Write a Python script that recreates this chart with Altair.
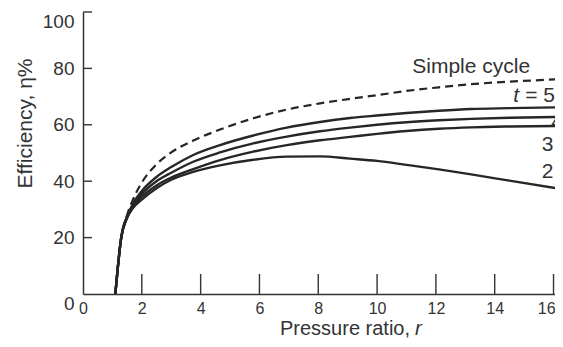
import altair as alt
import pandas as pd

# ---- data ----
r_vals = [1.1, 1.3, 1.5, 1.7, 2.0, 2.5, 3.0, 3.75, 4.66, 5.79, 6.93, 8.06, 9.08, 10.0, 11.0, 12.1, 13.2, 14.5, 16.1]
simple = [0, 20, 28, 33.5, 39.5, 46.0, 50.2, 54.4, 58.3, 62.3, 65.4, 67.6, 69.2, 70.5, 72.0, 73.3, 74.4, 75.3, 76.1]
t5 = [0, 20, 27.5, 32, 36.5, 41.5, 45, 49.3, 52.8, 56.2, 59.0, 61.0, 62.4, 63.3, 64.2, 65.0, 65.6, 65.9, 66.2]
t4 = [0, 20, 27.5, 31.5, 35.5, 40, 43, 46.9, 50.2, 53.4, 55.8, 57.7, 59.0, 60.0, 60.9, 61.6, 62.1, 62.5, 62.8]
t3 = [0, 20, 27, 31, 34.5, 38.5, 41.3, 44.3, 47.5, 50.5, 52.8, 54.5, 55.7, 56.8, 57.8, 58.6, 59.1, 59.4, 59.6]
t2 = [0, 20, 27, 30.5, 33.5, 37.5, 40.5, 43.3, 45.6, 47.6, 48.7, 48.8, 48.0, 47.2, 45.8, 44.2, 42.4, 40.2, 37.5]

x_ticks = [2, 4, 6, 8, 10, 12, 14, 16]
y_ticks = [20, 40, 60, 80, 100]
x_labels = [0, 2, 4, 6, 8, 10, 12, 14, 16]
y_labels = [0, 20, 40, 60, 80, 100]

solid = pd.DataFrame(
    [{"r": r, "eta": v, "series": name}
     for name, vals in [("t5", t5), ("t4", t4), ("t3", t3), ("t2", t2)]
     for r, v in zip(r_vals, vals)]
)
dashed = pd.DataFrame({"r": r_vals, "eta": simple})

center_labels = pd.DataFrame([{"r": 13.2, "eta": 78.4, "text": "Simple cycle"}])
right_labels = pd.DataFrame([
    {"r": 16.0, "eta": 50.8, "text": "3"},
    {"r": 16.0, "eta": 41.0, "text": "2"},
])
left_labels = pd.DataFrame([{"r": 15.92, "eta": 59.0, "text": "4"}])
t_label = pd.DataFrame([{"r": 16.05, "eta": 68.2}])

INK = "#262626"
FONT = "Liberation Sans"

xs = alt.Scale(domain=[0, 16.05], nice=False, zero=False)
ys = alt.Scale(domain=[0, 100], nice=False)

x_axis = alt.Axis(values=x_labels, ticks=False, grid=False, title=None,
                  labelFontSize=16, labelPadding=6, labelColor="#333",
                  labelFont=FONT, domainColor="#333", domainWidth=1.5,
                  labelFlush=False,
                  labelAlign={"condition": {"test": "datum.value == 16", "value": "right"},
                              "value": "center"},
                  labelOffset={"condition": {"test": "datum.value == 16", "value": 1.5},
                               "value": 0})
y_axis = alt.Axis(values=y_labels, ticks=False, grid=False,
                  title="Efficiency, η%", titleFontSize=21, titleFont=FONT,
                  titleFontWeight="normal", titleColor="#333",
                  titleX=-58, titleY=111, titleAlign="center", titleBaseline="middle",
                  labelFontSize=19, labelPadding=9, labelColor="#333",
                  labelFont=FONT, domainColor="#333", domainWidth=1.5,
                  labelFlush=False,
                  labelBaseline={"condition": {"test": "datum.value == 100 || datum.value == 0",
                                               "value": "top"}, "value": "middle"})

solid_lines = alt.Chart(solid).mark_line(
    color=INK, strokeWidth=2.4, interpolate="monotone"
).encode(
    x=alt.X("r:Q", scale=xs, axis=x_axis),
    y=alt.Y("eta:Q", scale=ys, axis=y_axis),
    detail="series:N",
)

dashed_line = alt.Chart(dashed).mark_line(
    color=INK, strokeWidth=2.2, strokeDash=[8, 5], interpolate="monotone"
).encode(x=alt.X("r:Q", scale=xs), y=alt.Y("eta:Q", scale=ys))

xtick = alt.Chart(pd.DataFrame({"v": x_ticks})).mark_rule(
    color="#333", strokeWidth=1.4
).encode(x=alt.X("v:Q", scale=xs), y=alt.value(262), y2=alt.value(282))

ytick = alt.Chart(pd.DataFrame({"v": y_ticks})).mark_rule(
    color="#333", strokeWidth=1.4
).encode(y=alt.Y("v:Q", scale=ys), x=alt.value(0), x2=alt.value(9))

ann_center = alt.Chart(center_labels).mark_text(
    align="center", baseline="alphabetic", fontSize=21, font=FONT, color="#333"
).encode(x=alt.X("r:Q", scale=xs), y=alt.Y("eta:Q", scale=ys), text="text:N")

ann_right = alt.Chart(right_labels).mark_text(
    align="right", baseline="alphabetic", fontSize=21, font=FONT, color="#333"
).encode(x=alt.X("r:Q", scale=xs), y=alt.Y("eta:Q", scale=ys), text="text:N")

ann_left = alt.Chart(left_labels).mark_text(
    align="left", baseline="alphabetic", fontSize=21, font=FONT, color="#333"
).encode(x=alt.X("r:Q", scale=xs), y=alt.Y("eta:Q", scale=ys), text="text:N")

t_eq = alt.Chart(t_label).mark_text(
    align="right", baseline="alphabetic", fontSize=21, font=FONT, color="#333"
).encode(x=alt.X("r:Q", scale=xs), y=alt.Y("eta:Q", scale=ys), text=alt.value("= 5"))

t_it = alt.Chart(t_label).mark_text(
    align="right", baseline="alphabetic", fontSize=21, font=FONT, color="#333",
    fontStyle="italic", dx=-36
).encode(x=alt.X("r:Q", scale=xs), y=alt.Y("eta:Q", scale=ys), text=alt.value("t"))

xtitle = alt.Chart(pd.DataFrame({"a": [0]})).mark_text(
    align="left", baseline="alphabetic", fontSize=20, font=FONT, color="#333"
).encode(x=alt.value(197), y=alt.value(323), text=alt.value("Pressure ratio,"))

xtitle_r = alt.Chart(pd.DataFrame({"a": [0]})).mark_text(
    align="left", baseline="alphabetic", fontSize=20, font=FONT, color="#333",
    fontStyle="italic"
).encode(x=alt.value(332), y=alt.value(323), text=alt.value("r"))

chart = alt.layer(
    solid_lines, dashed_line, xtick, ytick, ann_center, ann_right, ann_left,
    t_eq, t_it, xtitle, xtitle_r
).properties(
    width=472, height=282,
    autosize=alt.AutoSizeParams(type="none"),
    padding={"left": 75, "top": 4, "right": 0, "bottom": 45},
    background="white",
).configure_view(stroke=None)

chart.save("out.html", embed_options={"renderer": "svg", "actions": False})
